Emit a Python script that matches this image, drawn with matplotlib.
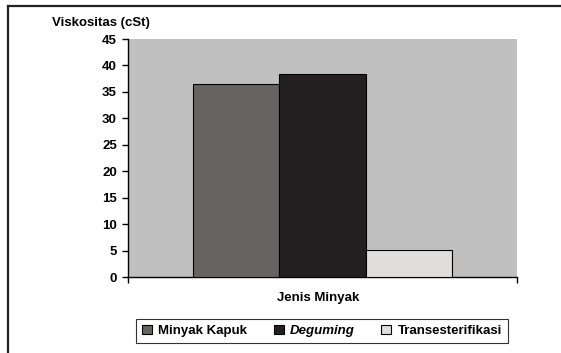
import numpy as np
from matplotlib import pyplot as plt
from matplotlib.lines import Line2D
from matplotlib.patches import Patch

series = ["Minyak Kapuk", "Deguming", "Transesterifikasi"]
viskositas = [36.4, 38.3, 5.1]
colors = ["#676361", "#231f20", "#dfdedc"]
yticks = [0, 5, 10, 15, 20, 25, 30, 35, 40, 45]

plt.rcParams["font.family"] = ["Liberation Sans", "DejaVu Sans"]
plt.rcParams["font.weight"] = "bold"
fs = 9.5

W, H = 561, 353
fig = plt.figure(figsize=(W / 100, H / 100), dpi=100)
# plot area in pixels: x 128..517, y 39..277
ax = fig.add_axes([128 / W, 1 - 277 / H, (517 - 128) / W, (277 - 39) / H])
ax.set_facecolor("#c0c0c0")

bw = 1 / 4.5
x = (np.arange(3) - 1) * bw
for i in range(3):
    ax.bar(x[i], viskositas[i], width=bw, color=colors[i],
           edgecolor="black", linewidth=0.8, zorder=3)

ax.set_xlim(-0.5, 0.5)
ax.set_ylim(0, 45)
ax.set_yticks(yticks)
ax.set_yticklabels([str(t) for t in yticks], fontsize=fs, fontweight="bold")
ax.set_xticks([-0.5, 0.5])
ax.set_xticklabels(["", ""])
ax.tick_params(axis="y", direction="out", length=4, width=1, pad=4)
ax.tick_params(axis="x", direction="out", length=4, width=1)
for s in ["top", "right"]:
    ax.spines[s].set_visible(False)
ax.spines["left"].set_linewidth(1)
ax.spines["bottom"].set_linewidth(1)

fig.text(52 / W, 1 - 23 / H, "Viskositas (cSt)", fontsize=fs, fontweight="bold",
         va="center", ha="left")
fig.text(318 / W, 1 - 298 / H, "Jenis Minyak", fontsize=fs, fontweight="bold",
         va="center", ha="center")

handles = [Patch(facecolor=c, edgecolor="black", linewidth=0.8) for c in colors]
leg = fig.legend(handles, series, loc="center", bbox_to_anchor=(322 / W, 1 - 331 / H),
                 ncol=3, frameon=True, fancybox=False, edgecolor="black",
                 handlelength=0.75, handleheight=0.75,
                 handletextpad=0.5, columnspacing=2.0, borderpad=0.45,
                 prop={"weight": "bold", "size": fs})
leg.get_frame().set_linewidth(0.8)
leg.get_texts()[1].set_style("italic")

# outer chart border (left and top edges)
fig.add_artist(Line2D([8 / W, 8 / W], [0, 1 - 6 / H], color="#222222", lw=1.6))
fig.add_artist(Line2D([8 / W, 1], [1 - 6 / H, 1 - 6 / H], color="#222222", lw=1.6))

plt.savefig("out.png", dpi=100)
